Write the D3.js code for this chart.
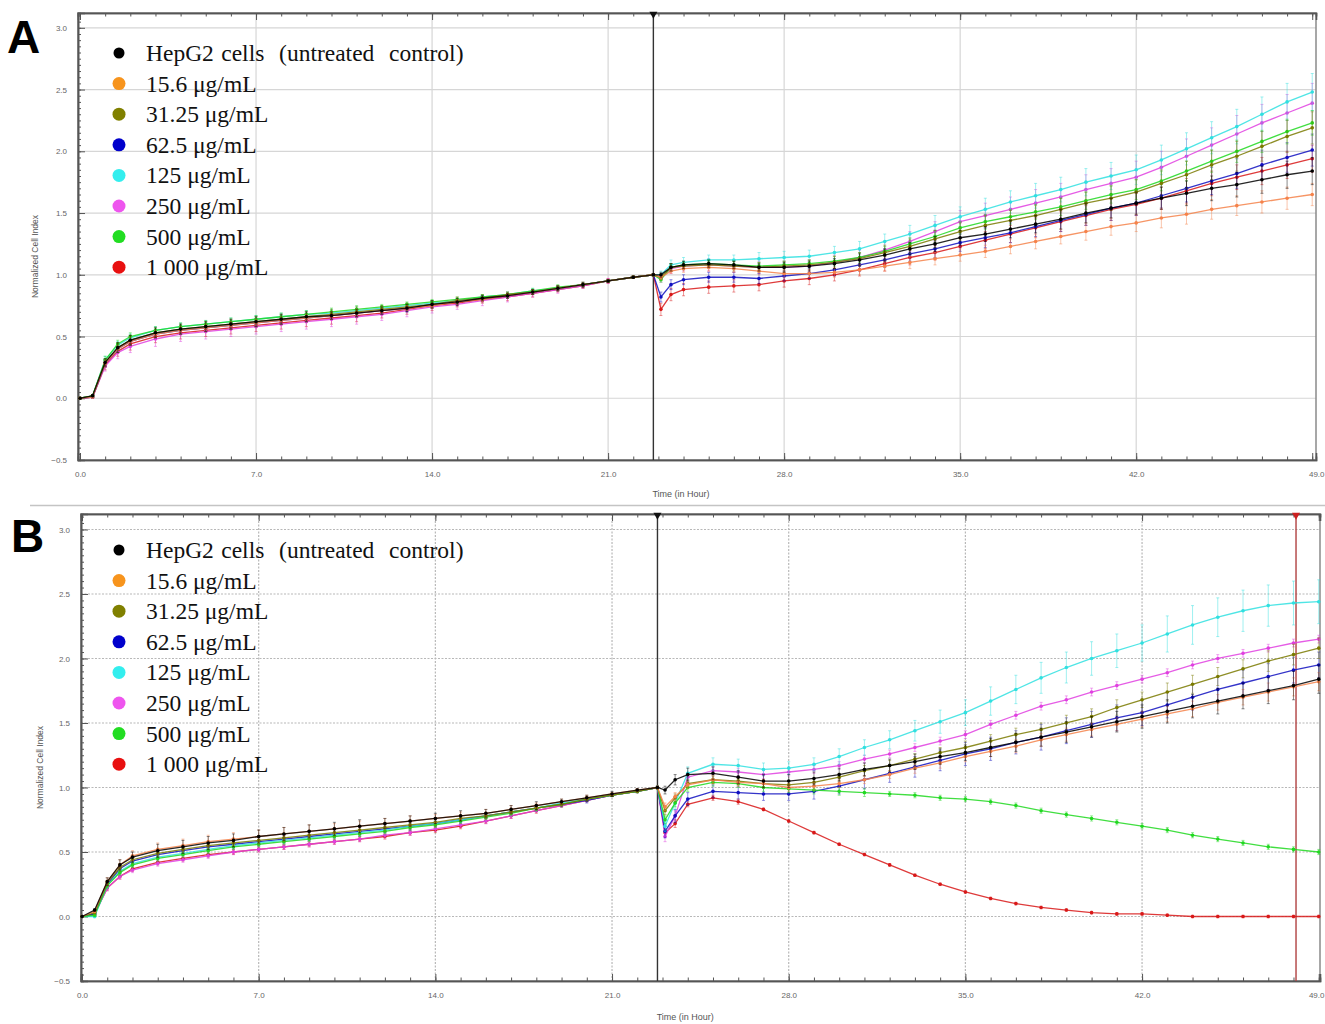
<!DOCTYPE html>
<html>
<head>
<meta charset="utf-8">
<script src="https://cdn.jsdelivr.net/npm/d3@7"></script>
<style>
  body { margin: 0; background: #fff; }
</style>
</head>
<body>
<svg id="chart" width="1325" height="1024"></svg>
<script>
// sampling times (hours), shared by both panels
const hours = [0, 0.5, 1, 1.5, 2, 3, 4, 5, 6, 7, 8, 9, 10, 11, 12, 13, 14, 15, 16, 17, 18, 19, 20, 21, 22, 22.8,
  23.1, 23.5, 24, 25, 26, 27, 28, 29, 30, 31, 32, 33, 34, 35, 36, 37, 38, 39, 40, 41, 42, 43, 44, 45, 46, 47, 48, 49];

const seriesNames = ["HepG2 cells  (untreated  control)", "15.6 μg/mL", "31.25 μg/mL", "62.5 μg/mL",
  "125 μg/mL", "250 μg/mL", "500 μg/mL", "1 000 μg/mL"];
const legendColors = ["#000000", "#f7941d", "#808000", "#0000cc", "#33eeee", "#ee55ee", "#22dd22", "#e81010"];
const lineColors = ["#000000", "#f5824a", "#7a7a00", "#1010c0", "#30e0e0", "#e040e0", "#20d820", "#d81818"];

const xMajorTicks = [0, 7, 14, 21, 28, 35, 42, 49];
const yMajorTicks = [-0.5, 0, 0.5, 1.0, 1.5, 2.0, 2.5, 3.0];
const treatmentHour = 22.8;
const stopHour = 48.1;

// ---- panel A : normalized cell index ----
const aControl = [0, 0.02, 0.29, 0.41, 0.47, 0.53, 0.56, 0.58, 0.60, 0.62, 0.64, 0.66, 0.67, 0.69, 0.71, 0.73, 0.76, 0.78, 0.81, 0.83, 0.86, 0.89, 0.92, 0.95, 0.98, 1.0,
  1.00, 1.06, 1.08, 1.09, 1.08, 1.06, 1.06, 1.07, 1.09, 1.12, 1.16, 1.21, 1.25, 1.30, 1.33, 1.37, 1.41, 1.45, 1.50, 1.54, 1.58, 1.62, 1.66, 1.70, 1.73, 1.77, 1.81, 1.84];
const a15 = [0, 0.01, 0.28, 0.40, 0.46, 0.52, 0.55, 0.57, 0.59, 0.61, 0.63, 0.65, 0.67, 0.69, 0.71, 0.73, 0.75, 0.78, 0.80, 0.83, 0.86, 0.89, 0.92, 0.95, 0.98, 1.0,
  0.98, 1.03, 1.05, 1.06, 1.05, 1.03, 1.01, 1.01, 1.02, 1.04, 1.07, 1.10, 1.13, 1.16, 1.19, 1.23, 1.27, 1.31, 1.35, 1.39, 1.42, 1.46, 1.49, 1.53, 1.56, 1.59, 1.62, 1.65];
const a31 = [0, 0.02, 0.29, 0.41, 0.47, 0.53, 0.56, 0.58, 0.60, 0.62, 0.64, 0.66, 0.68, 0.70, 0.72, 0.74, 0.76, 0.79, 0.81, 0.84, 0.86, 0.89, 0.92, 0.95, 0.98, 1.0,
  0.98, 1.06, 1.07, 1.08, 1.07, 1.06, 1.07, 1.08, 1.10, 1.13, 1.18, 1.23, 1.29, 1.35, 1.40, 1.44, 1.48, 1.53, 1.58, 1.62, 1.67, 1.74, 1.81, 1.89, 1.96, 2.04, 2.12, 2.19];
const a62 = [0, 0.01, 0.28, 0.40, 0.46, 0.52, 0.55, 0.57, 0.59, 0.61, 0.63, 0.65, 0.67, 0.69, 0.71, 0.73, 0.76, 0.78, 0.81, 0.83, 0.86, 0.89, 0.92, 0.95, 0.98, 1.0,
  0.82, 0.92, 0.96, 0.98, 0.98, 0.97, 0.99, 1.01, 1.04, 1.08, 1.12, 1.17, 1.21, 1.26, 1.30, 1.34, 1.39, 1.44, 1.49, 1.54, 1.58, 1.64, 1.70, 1.76, 1.82, 1.89, 1.95, 2.01];
const a125 = [0, 0.02, 0.31, 0.43, 0.49, 0.55, 0.58, 0.60, 0.62, 0.64, 0.66, 0.68, 0.69, 0.71, 0.73, 0.75, 0.77, 0.79, 0.82, 0.84, 0.87, 0.89, 0.92, 0.95, 0.98, 1.0,
  1.00, 1.08, 1.10, 1.12, 1.12, 1.13, 1.14, 1.15, 1.18, 1.21, 1.27, 1.33, 1.40, 1.47, 1.53, 1.59, 1.64, 1.69, 1.75, 1.80, 1.85, 1.93, 2.02, 2.11, 2.20, 2.30, 2.40, 2.48];
const a250 = [0, 0.01, 0.26, 0.37, 0.42, 0.48, 0.52, 0.54, 0.56, 0.58, 0.60, 0.62, 0.64, 0.66, 0.68, 0.71, 0.74, 0.76, 0.79, 0.82, 0.85, 0.88, 0.91, 0.95, 0.98, 1.0,
  0.97, 1.05, 1.07, 1.08, 1.07, 1.06, 1.06, 1.07, 1.10, 1.14, 1.20, 1.27, 1.35, 1.43, 1.48, 1.53, 1.58, 1.63, 1.69, 1.74, 1.79, 1.87, 1.96, 2.05, 2.14, 2.23, 2.31, 2.39];
const a500 = [0, 0.02, 0.31, 0.44, 0.50, 0.55, 0.58, 0.60, 0.62, 0.64, 0.66, 0.68, 0.70, 0.72, 0.74, 0.76, 0.78, 0.80, 0.82, 0.84, 0.87, 0.90, 0.92, 0.95, 0.98, 1.0,
  0.96, 1.06, 1.08, 1.09, 1.08, 1.07, 1.08, 1.09, 1.11, 1.14, 1.19, 1.25, 1.31, 1.38, 1.43, 1.47, 1.51, 1.55, 1.60, 1.65, 1.69, 1.76, 1.84, 1.92, 2.00, 2.08, 2.16, 2.23];
const a1000 = [0, 0.01, 0.27, 0.38, 0.44, 0.50, 0.53, 0.55, 0.57, 0.59, 0.61, 0.63, 0.65, 0.67, 0.69, 0.72, 0.75, 0.77, 0.80, 0.82, 0.85, 0.88, 0.91, 0.95, 0.98, 1.0,
  0.72, 0.84, 0.88, 0.90, 0.91, 0.92, 0.95, 0.97, 1.00, 1.04, 1.09, 1.14, 1.18, 1.23, 1.28, 1.33, 1.38, 1.43, 1.48, 1.53, 1.57, 1.62, 1.68, 1.74, 1.79, 1.84, 1.89, 1.94];

// panel A : standard deviations
const aControlSd = [0, 0.01, 0.03, 0.04, 0.04, 0.04, 0.04, 0.04, 0.04, 0.04, 0.04, 0.04, 0.03, 0.03, 0.03, 0.03, 0.03, 0.03, 0.02, 0.02, 0.02, 0.02, 0.02, 0.01, 0.01, 0.01,
  0.02, 0.03, 0.03, 0.03, 0.03, 0.03, 0.04, 0.04, 0.04, 0.05, 0.05, 0.05, 0.06, 0.06, 0.06, 0.07, 0.07, 0.08, 0.08, 0.08, 0.09, 0.09, 0.10, 0.10, 0.10, 0.11, 0.11, 0.11];
const a15Sd = [0, 0.01, 0.03, 0.03, 0.03, 0.03, 0.03, 0.03, 0.03, 0.03, 0.03, 0.03, 0.03, 0.03, 0.03, 0.02, 0.02, 0.02, 0.02, 0.02, 0.02, 0.02, 0.01, 0.01, 0.01, 0.01,
  0.02, 0.02, 0.03, 0.03, 0.03, 0.03, 0.03, 0.03, 0.04, 0.04, 0.04, 0.05, 0.05, 0.05, 0.05, 0.06, 0.06, 0.06, 0.07, 0.07, 0.07, 0.08, 0.08, 0.08, 0.08, 0.09, 0.09, 0.09];
const a31Sd = [0, 0.01, 0.03, 0.04, 0.04, 0.04, 0.04, 0.04, 0.04, 0.04, 0.04, 0.04, 0.04, 0.04, 0.03, 0.03, 0.03, 0.03, 0.03, 0.02, 0.02, 0.02, 0.02, 0.01, 0.01, 0.01,
  0.02, 0.03, 0.03, 0.03, 0.04, 0.04, 0.04, 0.04, 0.05, 0.05, 0.06, 0.06, 0.07, 0.07, 0.08, 0.08, 0.08, 0.09, 0.09, 0.10, 0.10, 0.11, 0.11, 0.12, 0.12, 0.12, 0.13, 0.13];
const a62Sd = [0, 0.01, 0.03, 0.03, 0.03, 0.03, 0.03, 0.03, 0.03, 0.03, 0.03, 0.03, 0.03, 0.03, 0.03, 0.03, 0.02, 0.02, 0.02, 0.02, 0.02, 0.02, 0.01, 0.01, 0.01, 0.01,
  0.04, 0.04, 0.04, 0.04, 0.04, 0.04, 0.04, 0.04, 0.05, 0.05, 0.06, 0.06, 0.07, 0.07, 0.08, 0.08, 0.08, 0.09, 0.09, 0.10, 0.10, 0.10, 0.11, 0.11, 0.12, 0.12, 0.12, 0.13];
const a125Sd = [0, 0.01, 0.03, 0.03, 0.03, 0.03, 0.03, 0.03, 0.03, 0.03, 0.03, 0.03, 0.03, 0.03, 0.02, 0.02, 0.02, 0.02, 0.02, 0.02, 0.02, 0.01, 0.01, 0.01, 0.01, 0.01,
  0.03, 0.04, 0.04, 0.04, 0.04, 0.05, 0.05, 0.05, 0.05, 0.06, 0.06, 0.07, 0.08, 0.08, 0.09, 0.09, 0.10, 0.10, 0.11, 0.11, 0.12, 0.12, 0.13, 0.13, 0.14, 0.14, 0.15, 0.15];
const a250Sd = [0, 0.01, 0.04, 0.05, 0.05, 0.06, 0.06, 0.06, 0.06, 0.06, 0.06, 0.06, 0.06, 0.06, 0.05, 0.05, 0.05, 0.04, 0.04, 0.04, 0.03, 0.03, 0.02, 0.02, 0.01, 0.01,
  0.03, 0.04, 0.04, 0.05, 0.05, 0.05, 0.05, 0.05, 0.06, 0.06, 0.07, 0.08, 0.08, 0.09, 0.10, 0.10, 0.11, 0.11, 0.12, 0.12, 0.13, 0.13, 0.14, 0.14, 0.15, 0.15, 0.15, 0.16];
const a500Sd = [0, 0.01, 0.03, 0.03, 0.03, 0.03, 0.03, 0.03, 0.03, 0.03, 0.03, 0.03, 0.03, 0.03, 0.02, 0.02, 0.02, 0.02, 0.02, 0.02, 0.02, 0.02, 0.01, 0.01, 0.01, 0.01,
  0.02, 0.03, 0.03, 0.03, 0.03, 0.03, 0.03, 0.03, 0.04, 0.04, 0.04, 0.05, 0.05, 0.05, 0.06, 0.06, 0.06, 0.07, 0.07, 0.07, 0.08, 0.08, 0.08, 0.09, 0.09, 0.09, 0.10, 0.10];
const a1000Sd = [0, 0.01, 0.04, 0.04, 0.05, 0.05, 0.05, 0.05, 0.05, 0.05, 0.05, 0.05, 0.05, 0.05, 0.04, 0.04, 0.04, 0.03, 0.03, 0.03, 0.03, 0.02, 0.02, 0.02, 0.01, 0.01,
  0.05, 0.05, 0.05, 0.05, 0.05, 0.05, 0.05, 0.05, 0.05, 0.05, 0.06, 0.06, 0.06, 0.07, 0.07, 0.07, 0.08, 0.08, 0.08, 0.09, 0.09, 0.09, 0.10, 0.10, 0.10, 0.11, 0.11, 0.11];

// ---- panel B : normalized cell index ----
const bControl = [0, 0.05, 0.27, 0.40, 0.46, 0.51, 0.54, 0.57, 0.59, 0.62, 0.64, 0.66, 0.68, 0.70, 0.72, 0.74, 0.76, 0.78, 0.80, 0.83, 0.86, 0.89, 0.92, 0.95, 0.98, 1.0,
  0.98, 1.06, 1.10, 1.11, 1.08, 1.05, 1.05, 1.07, 1.10, 1.14, 1.17, 1.20, 1.24, 1.27, 1.31, 1.35, 1.39, 1.43, 1.47, 1.51, 1.55, 1.59, 1.63, 1.67, 1.71, 1.75, 1.79, 1.84];
const b15 = [0, 0.04, 0.27, 0.40, 0.47, 0.52, 0.55, 0.58, 0.60, 0.62, 0.64, 0.66, 0.68, 0.70, 0.72, 0.74, 0.76, 0.78, 0.80, 0.83, 0.86, 0.89, 0.92, 0.95, 0.98, 1.0,
  0.85, 0.93, 1.02, 1.06, 1.04, 1.03, 1.00, 1.01, 1.03, 1.06, 1.10, 1.15, 1.19, 1.24, 1.28, 1.32, 1.37, 1.41, 1.45, 1.49, 1.53, 1.57, 1.61, 1.66, 1.70, 1.74, 1.78, 1.82];
const b31 = [0, 0.03, 0.26, 0.38, 0.44, 0.49, 0.52, 0.55, 0.57, 0.59, 0.61, 0.63, 0.65, 0.67, 0.69, 0.71, 0.73, 0.76, 0.78, 0.81, 0.84, 0.87, 0.91, 0.94, 0.97, 1.0,
  0.82, 0.92, 1.03, 1.06, 1.05, 1.03, 1.02, 1.04, 1.08, 1.13, 1.17, 1.22, 1.27, 1.31, 1.36, 1.41, 1.45, 1.50, 1.55, 1.62, 1.68, 1.74, 1.80, 1.86, 1.92, 1.98, 2.03, 2.08];
const b62 = [0, 0.02, 0.25, 0.37, 0.43, 0.48, 0.51, 0.54, 0.56, 0.58, 0.60, 0.62, 0.64, 0.66, 0.68, 0.70, 0.72, 0.75, 0.78, 0.81, 0.84, 0.87, 0.90, 0.94, 0.97, 1.0,
  0.66, 0.78, 0.91, 0.97, 0.96, 0.95, 0.95, 0.97, 1.01, 1.06, 1.11, 1.16, 1.21, 1.26, 1.30, 1.35, 1.39, 1.44, 1.49, 1.54, 1.58, 1.64, 1.70, 1.76, 1.81, 1.86, 1.91, 1.95];
const b125 = [0, 0.0, 0.24, 0.35, 0.41, 0.46, 0.49, 0.52, 0.55, 0.57, 0.59, 0.61, 0.63, 0.65, 0.67, 0.70, 0.72, 0.75, 0.78, 0.81, 0.84, 0.88, 0.91, 0.94, 0.97, 1.0,
  0.70, 0.88, 1.11, 1.18, 1.17, 1.14, 1.15, 1.18, 1.24, 1.31, 1.37, 1.44, 1.51, 1.58, 1.67, 1.76, 1.85, 1.93, 2.00, 2.06, 2.12, 2.19, 2.26, 2.32, 2.37, 2.41, 2.43, 2.44];
const b250 = [0, 0.02, 0.22, 0.31, 0.36, 0.41, 0.44, 0.47, 0.50, 0.52, 0.54, 0.56, 0.58, 0.60, 0.63, 0.65, 0.68, 0.71, 0.74, 0.78, 0.82, 0.86, 0.90, 0.94, 0.97, 1.0,
  0.62, 0.78, 1.08, 1.13, 1.12, 1.10, 1.12, 1.14, 1.17, 1.22, 1.26, 1.31, 1.36, 1.41, 1.49, 1.56, 1.63, 1.68, 1.74, 1.79, 1.84, 1.89, 1.95, 2.00, 2.04, 2.08, 2.12, 2.15];
const b500 = [0, 0.01, 0.24, 0.34, 0.40, 0.45, 0.48, 0.51, 0.54, 0.56, 0.58, 0.60, 0.62, 0.64, 0.66, 0.69, 0.71, 0.74, 0.77, 0.80, 0.84, 0.87, 0.91, 0.94, 0.97, 1.0,
  0.75, 0.88, 1.00, 1.04, 1.03, 1.00, 0.99, 0.98, 0.97, 0.96, 0.95, 0.94, 0.92, 0.91, 0.89, 0.86, 0.82, 0.79, 0.76, 0.73, 0.70, 0.67, 0.63, 0.60, 0.57, 0.54, 0.52, 0.50];
const b1000 = [0, 0.02, 0.22, 0.31, 0.37, 0.42, 0.45, 0.48, 0.50, 0.52, 0.54, 0.56, 0.58, 0.60, 0.62, 0.65, 0.67, 0.70, 0.74, 0.78, 0.82, 0.86, 0.90, 0.94, 0.97, 1.0,
  0.65, 0.72, 0.87, 0.92, 0.89, 0.83, 0.74, 0.65, 0.56, 0.48, 0.40, 0.32, 0.25, 0.19, 0.14, 0.10, 0.07, 0.05, 0.03, 0.02, 0.02, 0.01, 0.0, 0.0, 0.0, 0.0, 0.0, 0.0];

// panel B : standard deviations
const bControlSd = [0, 0.01, 0.03, 0.04, 0.04, 0.05, 0.05, 0.05, 0.05, 0.05, 0.05, 0.05, 0.05, 0.05, 0.04, 0.04, 0.04, 0.04, 0.03, 0.03, 0.03, 0.02, 0.02, 0.02, 0.01, 0.01,
  0.03, 0.04, 0.05, 0.05, 0.05, 0.05, 0.05, 0.05, 0.05, 0.05, 0.05, 0.06, 0.06, 0.06, 0.07, 0.07, 0.07, 0.08, 0.08, 0.08, 0.09, 0.09, 0.09, 0.10, 0.10, 0.10, 0.11, 0.11];
const b15Sd = [0, 0.01, 0.03, 0.04, 0.04, 0.05, 0.05, 0.05, 0.05, 0.05, 0.05, 0.05, 0.04, 0.04, 0.04, 0.04, 0.03, 0.03, 0.03, 0.03, 0.02, 0.02, 0.02, 0.01, 0.01, 0.01,
  0.03, 0.03, 0.03, 0.03, 0.03, 0.03, 0.03, 0.03, 0.03, 0.03, 0.03, 0.04, 0.04, 0.04, 0.04, 0.05, 0.05, 0.05, 0.05, 0.05, 0.06, 0.06, 0.06, 0.06, 0.06, 0.07, 0.07, 0.07];
const b31Sd = [0, 0.01, 0.02, 0.03, 0.03, 0.03, 0.03, 0.03, 0.03, 0.03, 0.03, 0.03, 0.03, 0.03, 0.03, 0.03, 0.03, 0.02, 0.02, 0.02, 0.02, 0.02, 0.02, 0.01, 0.01, 0.01,
  0.03, 0.03, 0.03, 0.03, 0.03, 0.03, 0.03, 0.03, 0.03, 0.04, 0.04, 0.04, 0.04, 0.05, 0.05, 0.05, 0.05, 0.06, 0.06, 0.06, 0.06, 0.07, 0.07, 0.07, 0.07, 0.08, 0.08, 0.08];
const b62Sd = [0, 0.01, 0.02, 0.03, 0.03, 0.03, 0.03, 0.03, 0.03, 0.03, 0.03, 0.03, 0.03, 0.03, 0.03, 0.03, 0.02, 0.02, 0.02, 0.02, 0.02, 0.02, 0.02, 0.01, 0.01, 0.01,
  0.05, 0.05, 0.05, 0.05, 0.05, 0.05, 0.05, 0.06, 0.06, 0.07, 0.07, 0.08, 0.08, 0.09, 0.09, 0.09, 0.10, 0.10, 0.10, 0.10, 0.10, 0.10, 0.10, 0.10, 0.10, 0.10, 0.10, 0.10];
const b125Sd = [0, 0.01, 0.02, 0.02, 0.02, 0.02, 0.02, 0.02, 0.02, 0.02, 0.02, 0.02, 0.02, 0.02, 0.02, 0.02, 0.02, 0.02, 0.02, 0.02, 0.02, 0.02, 0.01, 0.01, 0.01, 0.01,
  0.04, 0.05, 0.05, 0.05, 0.05, 0.05, 0.05, 0.05, 0.06, 0.06, 0.07, 0.08, 0.09, 0.10, 0.11, 0.11, 0.12, 0.12, 0.13, 0.13, 0.14, 0.14, 0.15, 0.15, 0.16, 0.16, 0.17, 0.17];
const b250Sd = [0, 0.01, 0.02, 0.02, 0.02, 0.02, 0.02, 0.02, 0.02, 0.02, 0.02, 0.02, 0.02, 0.02, 0.02, 0.02, 0.02, 0.02, 0.02, 0.02, 0.01, 0.01, 0.01, 0.01, 0.01, 0.01,
  0.04, 0.04, 0.03, 0.03, 0.03, 0.03, 0.03, 0.03, 0.03, 0.03, 0.03, 0.03, 0.03, 0.03, 0.03, 0.03, 0.03, 0.03, 0.03, 0.03, 0.03, 0.03, 0.03, 0.03, 0.03, 0.03, 0.03, 0.03];
const b500Sd = [0, 0.01, 0.02, 0.02, 0.02, 0.02, 0.02, 0.02, 0.02, 0.02, 0.02, 0.02, 0.02, 0.02, 0.02, 0.02, 0.02, 0.02, 0.02, 0.02, 0.02, 0.01, 0.01, 0.01, 0.01, 0.01,
  0.03, 0.03, 0.03, 0.03, 0.03, 0.03, 0.03, 0.03, 0.03, 0.03, 0.02, 0.02, 0.02, 0.02, 0.02, 0.02, 0.02, 0.02, 0.02, 0.02, 0.02, 0.02, 0.02, 0.02, 0.02, 0.02, 0.02, 0.02];
const b1000Sd = [0, 0.01, 0.02, 0.02, 0.02, 0.02, 0.02, 0.02, 0.02, 0.02, 0.02, 0.02, 0.02, 0.02, 0.02, 0.02, 0.02, 0.02, 0.02, 0.02, 0.02, 0.01, 0.01, 0.01, 0.01, 0.01,
  0.03, 0.03, 0.02, 0.02, 0.02, 0.01, 0.01, 0.01, 0.01, 0.01, 0.01, 0.01, 0.01, 0.01, 0.01, 0.01, 0.01, 0.01, 0.01, 0.01, 0.01, 0.01, 0.01, 0.01, 0.01, 0.01, 0.01, 0.01];

// draw order of series indices (last on top)
const drawOrder = [7, 5, 3, 4, 6, 2, 1, 0];

let svg = d3.select("#chart");

drawPanel(svg, {
  label: "A", labelX: 7, labelY: 53,
  left: 78, right: 1316, top: 13, bottom: 460,
  xDomain: [-0.08, 49.15],
  values: [aControl, a15, a31, a62, a125, a250, a500, a1000],
  sds: [aControlSd, a15Sd, a31Sd, a62Sd, a125Sd, a250Sd, a500Sd, a1000Sd],
  dottedGrid: false, showStop: false,
  legendTop: 53, yTitleX: 38, xTitleY: 497
});

drawPanel(svg, {
  label: "B", labelX: 11, labelY: 552,
  left: 81, right: 1320, top: 514, bottom: 981,
  xDomain: [-0.04, 49.05],
  values: [bControl, b15, b31, b62, b125, b250, b500, b1000],
  sds: [bControlSd, b15Sd, b31Sd, b62Sd, b125Sd, b250Sd, b500Sd, b1000Sd],
  dottedGrid: true, showStop: true,
  legendTop: 550, yTitleX: 43, xTitleY: 1020
});

// separator between the two panels
svg.append("line")
  .attr("x1", 30).attr("x2", 1325)
  .attr("y1", 505.5).attr("y2", 505.5)
  .style("stroke", "#c4c4c4")
  .style("stroke-width", 1.5);

function drawPanel(svg, p) {
  let x = d3.scaleLinear().domain(p.xDomain).range([p.left, p.right]);
  let y = d3.scaleLinear().domain([-0.5, 3.12]).range([p.bottom, p.top]);
  let g = svg.append("g");
  let gridColor = p.dottedGrid ? "#b8b8b8" : "#d6d6d6";

  // grid lines
  g.selectAll(".vgrid")
    .data(xMajorTicks.filter(d => d > 0 && d < 49))
    .enter().append("line")
    .attr("x1", d => x(d)).attr("x2", d => x(d))
    .attr("y1", p.top).attr("y2", p.bottom)
    .style("stroke", gridColor)
    .style("stroke-width", 1.2)
    .style("stroke-dasharray", p.dottedGrid ? "2,1.5" : null);
  g.selectAll(".hgrid")
    .data(yMajorTicks.filter(d => d > -0.5))
    .enter().append("line")
    .attr("x1", p.left).attr("x2", p.right)
    .attr("y1", d => y(d)).attr("y2", d => y(d))
    .style("stroke", gridColor)
    .style("stroke-width", 1.2)
    .style("stroke-dasharray", p.dottedGrid ? "2,1.5" : null);

  // frame
  g.append("rect")
    .attr("x", p.left).attr("y", p.top)
    .attr("width", p.right - p.left).attr("height", p.bottom - p.top)
    .style("fill", "none")
    .style("stroke", "#8a8a8a")
    .style("stroke-width", 1.5);

  // axes with inward ticks
  let minorHours = d3.range(0, 50, 1);
  let minorY = d3.range(-0.5, 3.11, 0.05);
  g.append("g").attr("transform", "translate(0," + p.bottom + ")")
    .call(d3.axisBottom(x).tickValues(minorHours).tickSize(-3.5).tickFormat(""));
  let xAxis = g.append("g").attr("transform", "translate(0," + p.bottom + ")")
    .call(d3.axisBottom(x).tickValues(xMajorTicks).tickSize(-7).tickPadding(11).tickFormat(d3.format(".1f")));
  g.append("g").attr("transform", "translate(0," + p.top + ")")
    .call(d3.axisTop(x).tickValues(minorHours).tickSize(-3.5).tickFormat(""));
  g.append("g").attr("transform", "translate(0," + p.top + ")")
    .call(d3.axisTop(x).tickValues(xMajorTicks).tickSize(-7).tickFormat(""));
  g.append("g").attr("transform", "translate(" + p.left + ",0)")
    .call(d3.axisLeft(y).tickValues(minorY).tickSize(-3).tickFormat(""));
  g.append("g").attr("transform", "translate(" + p.left + ",0)")
    .call(d3.axisLeft(y).tickValues(yMajorTicks).tickSize(-7).tickPadding(11).tickFormat(d3.format(".1f")));

  g.selectAll(".domain").style("stroke", "#555").style("stroke-width", 1.6);
  g.selectAll(".tick line").style("stroke", "#555");
  g.selectAll(".tick text")
    .style("font-family", "Liberation Sans, Arial")
    .style("font-size", "8px")
    .style("fill", "#666");
  // keep the last hour label inside the page
  xAxis.selectAll(".tick text")
    .filter(d => d == 49)
    .attr("text-anchor", "end")
    .attr("dx", (1324 - x(49)) + "px");

  // axis titles
  g.append("text")
    .attr("transform", "translate(" + p.yTitleX + "," + ((p.top + p.bottom) / 2 + 20) + ") rotate(-90)")
    .attr("text-anchor", "middle")
    .text("Normalized Cell Index")
    .style("font-family", "Liberation Sans, Arial")
    .style("font-size", "8.5px")
    .style("fill", "#555");
  g.append("text")
    .attr("x", x(23.9)).attr("y", p.xTitleY)
    .attr("text-anchor", "middle")
    .text("Time (in Hour)")
    .style("font-family", "Liberation Sans, Arial")
    .style("font-size", "9px")
    .style("fill", "#555");

  // treatment line + marker
  g.append("line")
    .attr("x1", x(treatmentHour)).attr("x2", x(treatmentHour))
    .attr("y1", p.top).attr("y2", p.bottom)
    .style("stroke", "#333")
    .style("stroke-width", 1.4);
  g.append("path")
    .attr("d", d3.symbol().type(d3.symbolTriangle).size(28)())
    .attr("transform", "translate(" + x(treatmentHour) + "," + (p.top + 1) + ") rotate(180)")
    .style("fill", "#111");
  if (p.showStop) {
    g.append("line")
      .attr("x1", x(stopHour)).attr("x2", x(stopHour))
      .attr("y1", p.top).attr("y2", p.bottom)
      .style("stroke", "#b04040")
      .style("stroke-width", 1.4);
    g.append("path")
      .attr("d", d3.symbol().type(d3.symbolTriangle).size(28)())
      .attr("transform", "translate(" + x(stopHour) + "," + (p.top + 1) + ") rotate(180)")
      .style("fill", "#cc2020");
  }

  // series: error bars, line, point markers
  let line = d3.line().x(d => x(d.t)).y(d => y(d.v));
  for (let k of drawOrder) {
    let pts = hours.map((t, i) => ({t: t, v: p.values[k][i], sd: p.sds[k][i]}));
    let color = lineColors[k];
    let s = g.append("g");
    s.selectAll(".err")
      .data(pts.filter(d => d.sd > 0))
      .enter().append("line")
      .attr("x1", d => x(d.t)).attr("x2", d => x(d.t))
      .attr("y1", d => y(d.v - d.sd)).attr("y2", d => y(d.v + d.sd))
      .style("stroke", color)
      .style("stroke-width", 1)
      .style("opacity", 0.45);
    s.selectAll(".cap")
      .data(pts.filter(d => d.sd > 0).flatMap(d => [d.v - d.sd, d.v + d.sd].map(v => ({t: d.t, v: v}))))
      .enter().append("line")
      .attr("x1", d => x(d.t) - 1.5).attr("x2", d => x(d.t) + 1.5)
      .attr("y1", d => y(d.v)).attr("y2", d => y(d.v))
      .style("stroke", color)
      .style("stroke-width", 1)
      .style("opacity", 0.45);
    s.append("path")
      .datum(pts)
      .attr("d", line)
      .style("fill", "none")
      .style("stroke", color)
      .style("stroke-width", 1.3)
      .style("opacity", 0.85);
    s.selectAll(".pt")
      .data(pts)
      .enter().append("circle")
      .attr("cx", d => x(d.t)).attr("cy", d => y(d.v))
      .attr("r", 1.8)
      .style("fill", color);
  }

  // legend
  let leg = g.append("g");
  seriesNames.forEach((name, i) => {
    let cy = p.legendTop + i * 30.6;
    leg.append("circle")
      .attr("cx", 119).attr("cy", cy)
      .attr("r", i == 0 ? 5.5 : 6.5)
      .style("fill", legendColors[i]);
    leg.append("text")
      .attr("x", 146).attr("y", cy + 8)
      .attr("xml:space", "preserve")
      .style("white-space", "pre")
      .text(name)
      .style("font-family", "Liberation Serif, Times New Roman, serif")
      .style("font-size", "23.5px")
      .style("word-spacing", i == 0 ? "1.5px" : "0px")
      .style("fill", "#111");
  });

  // panel letter
  svg.append("text")
    .attr("x", p.labelX).attr("y", p.labelY)
    .text(p.label)
    .style("font-family", "Liberation Sans, Arial")
    .style("font-weight", "bold")
    .style("font-size", "46px")
    .style("fill", "#000");
}
</script>
</body>
</html>
